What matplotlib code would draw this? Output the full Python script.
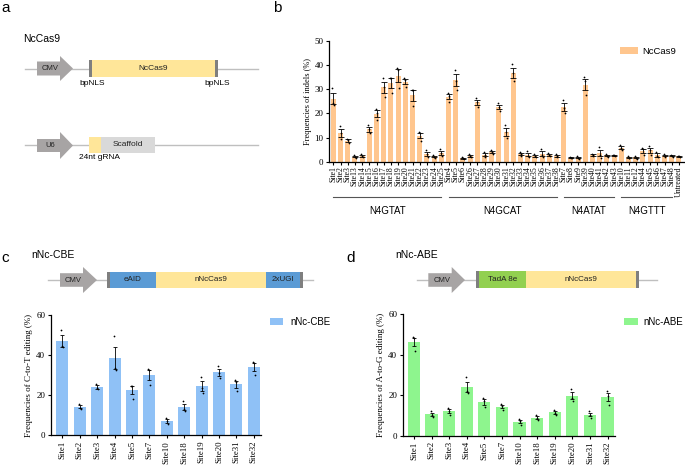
import numpy as np
import matplotlib
matplotlib.use("Agg")
import matplotlib.pyplot as plt
from matplotlib.patches import Rectangle, Polygon
from matplotlib.transforms import blended_transform_factory

SERIF = "Liberation Serif"
SANS = "Liberation Sans"

# ---------------- data ----------------
b_sites = ["Site1", "Site2", "Site3", "Site13", "Site14", "Site15", "Site16", "Site17",
           "Site18", "Site19", "Site20", "Site21", "Site22", "Site23", "Site24", "Site25",
           "Site4", "Site5", "Site6", "Site26", "Site27", "Site28", "Site29", "Site30",
           "Site31", "Site32", "Site33", "Site34", "Site35", "Site36", "Site37", "Site38",
           "Site7", "Site8", "Site9", "Site39", "Site40", "Site41", "Site42", "Site43",
           "Site10", "Site11", "Site12", "Site44", "Site45", "Site46", "Site47", "Site48",
           "Untreated"]
b_reps = [
    [30.5, 24.5, 23.3], [15.0, 12.0, 9.3], [9.6, 9.0, 7.8], [2.8, 2.0, 1.8],
    [3.5, 2.3, 2.0], [15.2, 13.5, 11.8], [22.0, 20.3, 17.4], [34.8, 31.0, 26.9],
    [34.8, 34.6, 28.4], [38.6, 37.8, 30.4], [34.6, 33.8, 30.9], [29.8, 29.6, 23.1],
    [12.4, 11.8, 8.5], [5.0, 3.2, 2.0], [3.0, 2.2, 1.7], [5.2, 3.6, 2.3],
    [28.6, 27.2, 24.9], [38.0, 33.5, 29.6], [2.0, 1.6, 1.2], [3.4, 2.4, 2.0],
    [26.2, 24.8, 22.8], [4.0, 2.8, 1.9], [4.8, 4.1, 3.4], [24.4, 22.6, 21.1],
    [15.4, 12.2, 9.9], [40.2, 36.5, 33.4], [4.2, 3.2, 2.5], [4.4, 2.6, 2.0],
    [3.3, 2.5, 2.0], [5.2, 3.0, 2.0], [3.9, 2.8, 2.3], [3.4, 2.4, 2.0],
    [25.4, 22.4, 20.3], [2.1, 1.8, 1.5], [2.3, 1.7, 1.4], [35.0, 33.2, 27.5],
    [3.3, 2.9, 2.5], [6.0, 3.0, 1.8], [3.3, 2.6, 2.2], [2.9, 2.7, 2.5],
    [7.0, 5.6, 4.8], [2.4, 1.8, 1.5], [2.5, 1.8, 1.4], [5.6, 5.2, 2.7],
    [6.6, 5.0, 2.8], [4.2, 2.6, 1.9], [3.2, 2.5, 2.1], [3.0, 2.6, 2.2],
    [2.6, 2.3, 2.0]]
b_groups = ["N4GTAT", "N4GCAT", "N4ATAT", "N4GTTT"]
b_group_ranges = [(0, 15), (16, 31), (32, 39), (40, 47)]

cd_sites = ["Site1", "Site2", "Site3", "Site4", "Site5", "Site7", "Site10",
            "Site18", "Site19", "Site20", "Site31", "Site32"]
cbe_reps = [[52.4, 44.6, 43.7], [15.8, 13.8, 13.3], [25.6, 23.6, 22.8],
            [49.2, 33.6, 32.7], [24.6, 24.3, 18.3], [32.8, 32.4, 24.8],
            [8.6, 7.0, 5.7], [17.0, 13.0, 12.3], [28.8, 23.6, 21.1],
            [34.6, 30.9, 28.4], [27.6, 26.4, 22.2], [36.4, 35.8, 29.8]]
abe_reps = [[48.6, 48.0, 42.0], [12.0, 10.2, 9.3], [13.8, 12.4, 10.4],
            [29.0, 21.8, 21.2], [18.6, 17.0, 14.2], [15.6, 14.6, 12.7],
            [8.0, 7.2, 5.5], [10.2, 8.6, 7.9], [12.8, 11.4, 10.3],
            [23.0, 18.6, 17.2], [12.0, 10.4, 8.8], [21.8, 19.6, 15.3]]

# ---------------- figure ----------------
W, H = 685, 466
fig = plt.figure(figsize=(W / 100, H / 100), dpi=100)
ov = fig.add_axes([0, 0, 1, 1])
ov.set_xlim(0, W)
ov.set_ylim(H, 0)
ov.axis("off")


def ax_px(x0, y0, x1, y1):
    return fig.add_axes([x0 / W, 1 - y1 / H, (x1 - x0) / W, (y1 - y0) / H])


LINE = "#BFBFBF"
GRAY = "#A7A4A4"
CAP = "#7F7F7F"
YEL = "#FFE699"
BLUE = "#5B9BD5"
GREEN = "#92D050"
SCAF = "#D9D9D9"


def arrow(x0, xb, tip, yc, hb, hh, label):
    pts = [(x0, yc - hb), (xb, yc - hb), (xb, yc - hh), (tip, yc), (xb, yc + hh),
           (xb, yc + hb), (x0, yc + hb)]
    ov.add_patch(Polygon(pts, closed=True, fc=GRAY, ec="none", zorder=3))
    ov.text((x0 + xb) / 2 + 2, yc, label, ha="center", va="center", fontsize=5.5,
            family=SANS, color="#222222", zorder=4)


def box(x0, x1, y0, y1, color, label=None, fs=5.8):
    ov.add_patch(Rectangle((x0, y0), x1 - x0, y1 - y0, fc=color, ec="none", zorder=3))
    if label:
        ov.text((x0 + x1) / 2, (y0 + y1) / 2, label, ha="center", va="center",
                fontsize=fs, family=SANS, color="#222222", zorder=4)


def letter(x, y, s):
    ov.text(x, y, s, ha="left", va="center", fontsize=11, family=SANS)


# ---- panel a diagram ----
letter(1, 8, "a")
letter(273, 8, "b")
letter(1, 258, "c")
letter(346, 258, "d")
ov.text(22.7, 39.5, "NcCas9", ha="left", va="center", fontsize=7.5, family=SANS)
ov.plot([25, 258], [69.3, 69.3], color=LINE, lw=1, zorder=2)
arrow(37, 60, 73, 68.5, 7, 12.5, "CMV")
box(89, 218, 60, 77, YEL, "NcCas9", 6)
box(89, 92.5, 60, 77, CAP)
box(215, 218, 60, 77, CAP)
ov.text(79, 83.5, "bpNLS", ha="left", va="center", fontsize=6, family=SANS)
ov.text(204, 83.5, "bpNLS", ha="left", va="center", fontsize=6, family=SANS)

ov.plot([25, 258], [145.3, 145.3], color=LINE, lw=1, zorder=2)
arrow(37, 60, 73, 145.5, 6.5, 13.5, "U6")
box(89, 101, 137, 153, YEL)
box(101, 155, 137, 153, SCAF, "Scaffold", 6)
ov.text(79, 157.5, "24nt gRNA", ha="left", va="center", fontsize=6, family=SANS)

# ---- panel c diagram ----
ov.text(31.7, 255, "nNc-CBE", ha="left", va="center", fontsize=7.5, family=SANS)
ov.plot([48, 313], [280, 280], color=LINE, lw=1, zorder=2)
arrow(60, 83, 97, 280, 6.8, 13, "CMV")
box(110, 156, 271.7, 287.7, BLUE, "eAID")
box(156, 265.7, 271.7, 287.7, YEL, "nNcCas9")
box(265.7, 300, 271.7, 287.7, BLUE, "2xUGI")
box(106.7, 110, 271.7, 287.7, CAP)
box(300, 302.7, 271.7, 287.7, CAP)

# ---- panel d diagram ----
ov.text(395, 255, "nNc-ABE", ha="left", va="center", fontsize=7.5, family=SANS)
ov.plot([416.7, 656.7], [280, 280], color=LINE, lw=1, zorder=2)
arrow(428.3, 451.7, 465, 280, 6.8, 13, "CMV")
box(479.5, 525.7, 271, 287.7, GREEN, "TadA 8e")
box(525.7, 636, 271, 287.7, YEL, "nNcCas9")
box(476, 479.5, 271, 287.7, CAP)
box(636, 638.8, 271, 287.7, CAP)


# ---------------- bar panels ----------------
def style_axis(ax, ymax, ystep, tick_fs, lab_fs, ylabel):
    for s in ["top", "right"]:
        ax.spines[s].set_visible(False)
    for s in ["left", "bottom"]:
        ax.spines[s].set_linewidth(0.9)
    ax.set_ylim(0, ymax)
    ax.set_yticks(np.arange(0, ymax + 0.1, ystep))
    ax.tick_params(axis="both", direction="out", length=2.5, width=0.8, pad=1.5)
    for lab in ax.get_yticklabels():
        lab.set_fontfamily(SERIF)
        lab.set_fontsize(tick_fs)
    ax.set_ylabel(ylabel, fontsize=lab_fs, family=SERIF, labelpad=2)


def draw_bars(ax, reps, color, width, xt_fs, offs):
    reps = np.array(reps, dtype=float)
    means = reps.mean(axis=1)
    sems = reps.std(axis=1, ddof=1) / np.sqrt(reps.shape[1])
    x = np.arange(len(means))
    bars = ax.bar(x, means, width=width, color=color, edgecolor="none", zorder=2)
    ax.errorbar(x, means, yerr=sems, fmt="none", ecolor="black", elinewidth=0.6,
                capsize=width * 2.6, capthick=0.6, zorder=3)
    for j in range(reps.shape[1]):
        ax.scatter(x + offs[j], reps[:, j], s=1.6, color="black", zorder=4, linewidths=0)
    return bars


# panel b
axb = ax_px(329, 40.7, 684, 162)
barsb = draw_bars(axb, b_reps, "#FFC68E", 0.7, 5.5, [-0.12, 0.0, 0.12])
axb.set_xlim(-0.6, 48.7)
style_axis(axb, 50, 10, 6.5, 6, "Frequencies of indels (%)")
axb.set_xticks(np.arange(len(b_sites)))
axb.set_xticklabels(b_sites, rotation=90, fontsize=5.6, family=SERIF)
axb.tick_params(axis="x", length=2, pad=1)
tr = blended_transform_factory(axb.transData, axb.transAxes)
for name, (i0, i1) in zip(b_groups, b_group_ranges):
    axb.plot([i0, i1], [-0.289, -0.289], color="#555555", lw=0.8, transform=tr,
             clip_on=False)
    axb.text((i0 + i1) / 2, -0.405, name, ha="center", va="center", fontsize=7,
             family=SANS, transform=tr)
axb.legend([barsb], ["NcCas9"], loc="upper left", bbox_to_anchor=(620 / W, 1 - 47 / H),
           bbox_transform=fig.transFigure, frameon=False, fontsize=6.8,
           prop={"family": SANS, "size": 6.8}, handlelength=1.9, handleheight=0.7,
           handletextpad=0.45, borderpad=0, borderaxespad=0)

# panel c
axc = ax_px(50.7, 314.7, 260.7, 435.3)
barsc = draw_bars(axc, cbe_reps, "#8FC1F6", 0.69, 6, [-0.06, 0.0, 0.06])
axc.set_xlim(-0.67, 11.4)
style_axis(axc, 60, 20, 6.5, 6.5, "Frequencies of C-to-T editing (%)")
axc.set_xticks(np.arange(len(cd_sites)))
axc.set_xticklabels(cd_sites, rotation=90, fontsize=6.3, family=SERIF)
axc.legend([barsc], ["nNc-CBE"], loc="upper left", bbox_to_anchor=(270 / W, 1 - 317 / H),
           bbox_transform=fig.transFigure, frameon=False,
           prop={"family": SANS, "size": 7}, handlelength=1.35, handleheight=0.7,
           handletextpad=0.7, borderpad=0, borderaxespad=0)

# panel d
axd = ax_px(402.7, 314, 614.6, 435.7)
barsd = draw_bars(axd, abe_reps, "#8EF58E", 0.69, 6, [-0.06, 0.0, 0.06])
axd.set_xlim(-0.64, 11.4)
style_axis(axd, 60, 20, 6.5, 6.5, "Frequencies of A-to-G editing (%)")
axd.set_xticks(np.arange(len(cd_sites)))
axd.set_xticklabels(cd_sites, rotation=90, fontsize=6.3, family=SERIF)
axd.legend([barsd], ["nNc-ABE"], loc="upper left", bbox_to_anchor=(624 / W, 1 - 317 / H),
           bbox_transform=fig.transFigure, frameon=False,
           prop={"family": SANS, "size": 7}, handlelength=1.45, handleheight=0.7,
           handletextpad=0.55, borderpad=0, borderaxespad=0)

fig.savefig("out.png", dpi=100)
